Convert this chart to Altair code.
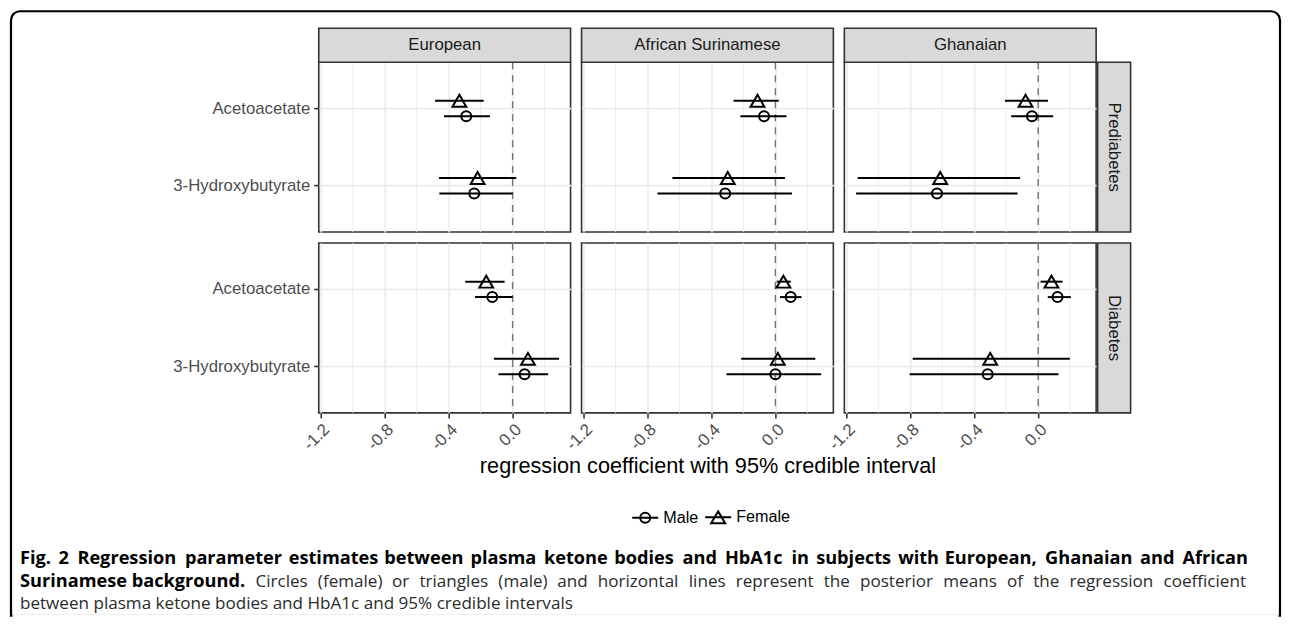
import altair as alt
import pandas as pd

# ---------------- data ----------------
ethnicities = ["European", "African Surinamese", "Ghanaian"]
statuses = ["Prediabetes", "Diabetes"]
metabolites = ["Acetoacetate", "3-Hydroxybutyrate"]
sexes = ["Female", "Male"]

# order: status -> ethnicity -> metabolite -> sex (Female, Male)
estimate = [
    -0.333, -0.290, -0.219, -0.240,
    -0.112, -0.071, -0.298, -0.314,
    -0.079, -0.039, -0.613, -0.633,
    -0.165, -0.127, 0.096, 0.075,
    0.050, 0.096, 0.015, 0.000,
    0.083, 0.121, -0.300, -0.316,
]
lower = [
    -0.485, -0.429, -0.460, -0.458,
    -0.262, -0.219, -0.644, -0.738,
    -0.208, -0.169, -1.129, -1.139,
    -0.296, -0.235, -0.117, -0.088,
    0.008, 0.029, -0.214, -0.306,
    0.015, 0.060, -0.785, -0.804,
]
upper = [
    -0.181, -0.142, 0.023, 0.000,
    0.021, 0.069, 0.060, 0.104,
    0.061, 0.094, -0.113, -0.129,
    -0.050, 0.000, 0.290, 0.223,
    0.096, 0.163, 0.250, 0.286,
    0.152, 0.204, 0.198, 0.127,
]

major_breaks = [-1.2, -0.8, -0.4, 0.0]
minor_breaks = [-1.0, -0.6, -0.2, 0.2]
x_domain = [-1.2125, 0.3625]

axis_title = "regression coefficient with 95% credible interval"
legend_order = ["Male", "Female"]

caption_line1 = ("Fig. 2 Regression parameter estimates between plasma ketone bodies and HbA1c "
                 "in subjects with European, Ghanaian and African")
caption_line2_bold = "Surinamese background."
caption_line2 = ("Circles (female) or triangles (male) and horizontal lines represent the "
                 "posterior means of the regression coefficient")
caption_line3 = "between plasma ketone bodies and HbA1c and 95% credible intervals"

records = []
i = 0
for s in statuses:
    for e in ethnicities:
        for m in metabolites:
            for sx in sexes:
                records.append(dict(status=s, ethnicity=e, metabolite=m, sex=sx,
                                    est=estimate[i], lo=lower[i], hi=upper[i]))
                i += 1
df = pd.DataFrame(records)

# ---------------- style ----------------
W, H = 252, 170
FONT = "Liberation Sans"
AX = 16.8
GRID = "#ebebeb"
DARK = "#333333"
BAND = H / 2.2          # y band width (ggplot discrete expansion 0.6)
DODGE = BAND * 0.1      # half dodge distance

circle_path = "M-1,0H1M0.385,0A0.385,0.385,0,1,1,-0.385,0A0.385,0.385,0,1,1,0.385,0Z"
tri_path = "M-1,0H1M0,-0.46L0.54,0.46L-0.54,0.46Z"

# ---------------- caption text layout (justified lines) ----------------
_OS = dict(zip("abcdefghijklmnopqrstuvwxyz",
               [1139, 1255, 975, 1255, 1149, 694, 1122, 1257, 518, 518, 1075, 518, 1905, 1257,
                1237, 1255, 1255, 836, 977, 723, 1257, 1026, 1593, 1073, 1028, 977]))
_OS.update({"A": 1296, "C": 1292, "E": 1139, "F": 1057, "G": 1491, "H": 1511, "R": 1300,
            "S": 1108, ".": 545, ",": 500, "(": 563, ")": 563, "%": 1702, " ": 532})
_OS.update({d: 1171 for d in "0123456789"})


def _em(s):
    return sum(_OS.get(ch, 1200) for ch in s) / 2048.0


BOLD_K = 64.85 / _em(caption_line1)   # bold / regular width ratio (calibrated)
CFONT = "Open Sans"
BFS = 18.2    # bold caption size
RFS = 17.1    # regular caption size
X0 = -299     # caption left edge relative to the bottom-left panel
XR = 928      # right end of the justified lines
Y1, Y2, Y3 = 321, 344, 366


def justify(pieces, x0, x1):
    widths = [_em(p) * (BFS * BOLD_K if b else RFS) for p, b in pieces]
    spaces = [_em(" ") * (BFS if b else RFS) for p, b in pieces[1:]]
    extra = (x1 - x0 - sum(widths) - sum(spaces)) / max(len(spaces), 1)
    out, cur = [], x0
    for n, ((p, b), wd) in enumerate(zip(pieces, widths)):
        out.append((p, b, cur))
        if n < len(spaces):
            cur += wd + spaces[n] + extra
    return out


def make_panel(status, eth, r, c, extra=()):
    d = df[(df.status == status) & (df.ethnicity == eth)]
    bottom = r == 1
    left = c == 0

    ax_kw = dict(values=major_breaks, format=".1f", grid=True, gridColor=GRID, gridWidth=1.6,
                 domain=False, labels=bottom, ticks=bottom, tickColor=DARK, tickSize=5,
                 tickWidth=1.6, labelAngle=315, labelAlign="right", labelBaseline="top",
                 labelPadding=3, labelFont=FONT, labelFontSize=AX, labelColor="#4d4d4d",
                 labelExpr="replace(datum.label, '\u2212', '-')")
    if bottom and c == 1:
        ax_kw.update(title=axis_title, titleFont=FONT, titleFontSize=21.7, titleColor="black",
                     titleFontWeight="normal", titlePadding=2)
    else:
        ax_kw.update(title=None)
    x_axis = alt.Axis(**ax_kw)

    y_axis = alt.Axis(grid=True, gridColor=GRID, gridWidth=1.6, domain=False, labels=left,
                      ticks=left, tickSize=5, tickWidth=1.6, tickColor=DARK, labelPadding=4,
                      labelFont=FONT, labelFontSize=AX, labelColor="#4d4d4d", title=None,
                      bandPosition=0.5)

    x_scale = alt.Scale(domain=x_domain, nice=False, zero=False)
    y_enc = alt.Y("metabolite:N", sort=metabolites, axis=y_axis,
                  scale=alt.Scale(domain=metabolites, paddingInner=0, paddingOuter=0.1))
    off_enc = alt.YOffset("sex:N", scale=alt.Scale(
        type="point", domain=sexes, padding=0,
        range=[BAND / 2 - DODGE, BAND / 2 + DODGE]))

    minor = alt.Chart(pd.DataFrame({"est": minor_breaks})).mark_rule(
        color=GRID, strokeWidth=0.9).encode(x=alt.X("est:Q", scale=x_scale, axis=x_axis))
    zero = alt.Chart(pd.DataFrame({"est": [0.0]})).mark_rule(
        color="#747474", strokeWidth=1.4, strokeDash=[7, 6]).encode(
        x=alt.X("est:Q", scale=x_scale, axis=x_axis))
    base = alt.Chart(d)
    ci = base.mark_rule(color="black", strokeWidth=2).encode(
        x=alt.X("lo:Q", scale=x_scale, axis=x_axis), x2="hi:Q", y=y_enc, yOffset=off_enc)
    male = base.transform_filter(alt.datum.sex == "Male").mark_point(
        shape="circle", size=100, filled=False, color="black", strokeWidth=2, opacity=1).encode(
        x=alt.X("est:Q", scale=x_scale, axis=x_axis), y=y_enc, yOffset=off_enc)
    female = base.transform_filter(alt.datum.sex == "Female").mark_point(
        shape="triangle-up", size=190, filled=False, color="black", strokeWidth=2, opacity=1).encode(
        x=alt.X("est:Q", scale=x_scale, axis=x_axis), y=y_enc, yOffset=off_enc)

    layers = [minor, zero, ci, male, female]

    if r == 0:
        lab = alt.Chart(pd.DataFrame({"label": [eth]}))
        layers.append(lab.mark_rect(fill="#d9d9d9", stroke=DARK, strokeWidth=1.6).encode(
            x=alt.value(0), x2=alt.value(W), y=alt.value(-34), y2=alt.value(0)))
        layers.append(lab.mark_text(font=FONT, fontSize=AX, color="#1a1a1a",
                                    align="center", baseline="middle").encode(
            x=alt.value(W / 2), y=alt.value(-17), text="label:N"))
    if c == 2:
        lab = alt.Chart(pd.DataFrame({"label": [status]}))
        layers.append(lab.mark_rect(fill="#d9d9d9", stroke=DARK, strokeWidth=1.6).encode(
            x=alt.value(W + 1.5), x2=alt.value(W + 34.5), y=alt.value(0), y2=alt.value(H)))
        layers.append(lab.mark_text(font=FONT, fontSize=AX, color="#1a1a1a", angle=90,
                                    align="center", baseline="middle").encode(
            x=alt.value(W + 18), y=alt.value(H / 2), text="label:N"))

    layers.extend(extra)
    return alt.layer(*layers).properties(
        width=W, height=H, view=alt.ViewBackground(stroke=DARK, strokeWidth=1.6))


# ---------------- caption, legend, frame (drawn from the bottom-left panel) ----------------
def cap_layer(rows_, bold):
    tdf = pd.DataFrame(rows_, columns=["t", "px", "py"])
    return alt.Chart(tdf).mark_text(
        font=CFONT, fontSize=BFS if bold else RFS, fontWeight="bold" if bold else "normal",
        color="black" if bold else "#2b2b2b", align="left", baseline="alphabetic").encode(
        x=alt.X("px:Q", scale=None), y=alt.Y("py:Q", scale=None), text="t:N")


l1 = [(t, b, x, Y1) for t, b, x in justify([(w, True) for w in caption_line1.split(" ")], X0, XR)]
pieces2 = [(caption_line2_bold, True)] + [(w, False) for w in caption_line2.split(" ")]
l2 = [(t, b, x, Y2) for t, b, x in justify(pieces2, X0, XR)]
allw = l1 + l2

cap_layers = [
    cap_layer([(t, x, y) for t, b, x, y in allw if b], True),
    cap_layer([(t, x, y) for t, b, x, y in allw if not b] + [(caption_line3, X0, Y3)], False),
]

frame = alt.Chart(pd.DataFrame({"a": [0]})).mark_rect(
    fill="transparent", stroke="black", strokeWidth=2.2,
    cornerRadiusTopLeft=9, cornerRadiusTopRight=9).encode(
    x=alt.value(-308), x2=alt.value(962), y=alt.value(-232), y2=alt.value(373))
frame_cut = alt.Chart(pd.DataFrame({"a": [0]})).mark_rect(fill="white").encode(
    x=alt.value(-306.5), x2=alt.value(960.5), y=alt.value(371.5), y2=alt.value(375))

legend_layer = alt.Chart(df).mark_point(filled=False, color="black", opacity=0).encode(
    shape=alt.Shape("sex:N",
                    scale=alt.Scale(domain=legend_order, range=[circle_path, tri_path]),
                    legend=alt.Legend(orient="none", legendX=312.7, legendY=441.5,
                                      direction="horizontal", title=None, symbolSize=676,
                                      symbolStrokeWidth=2, symbolStrokeColor="black",
                                      symbolFillColor="transparent", symbolOpacity=1,
                                      labelFont=FONT, labelFontSize=16.2, labelColor="black",
                                      labelOffset=4, columnPadding=2)))

extras = [frame, frame_cut, legend_layer] + cap_layers

panels = []
for r, s in enumerate(statuses):
    for c, e in enumerate(ethnicities):
        panels.append(make_panel(s, e, r, c, extras if (r == 1 and c == 0) else ()))

chart = alt.ConcatChart(
    concat=panels, columns=3, spacing=11, bounds="flush",
    padding={"left": 1, "top": 1, "right": 0, "bottom": 0},
).configure_view(stroke="transparent").configure(font=FONT)

chart.save("out.html", embed_options={"renderer": "svg", "actions": False})
